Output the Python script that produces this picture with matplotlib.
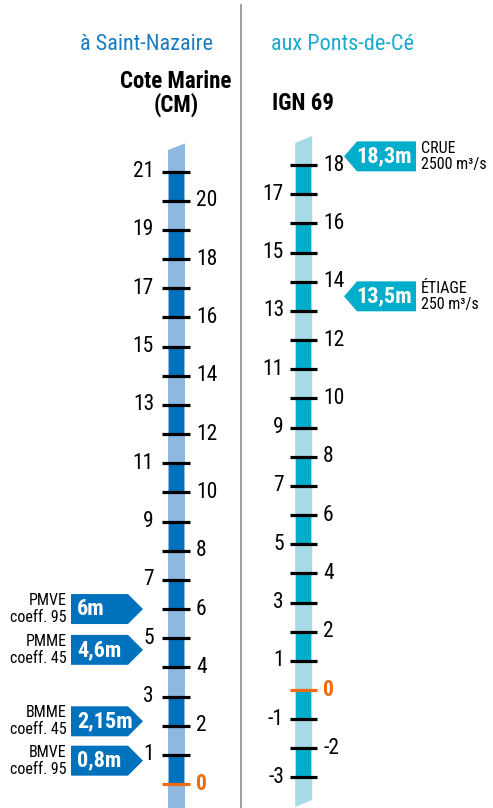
import matplotlib
matplotlib.use('Agg')
import matplotlib.pyplot as plt
from matplotlib.patches import Polygon

# Données des deux échelles
left_ticks = list(range(0, 22))
right_ticks = list(range(-3, 19))

left_names = ["PMVE", "PMME", "BMME", "BMVE"]
left_coeffs = ["coeff. 95", "coeff. 45", "coeff. 45", "coeff. 95"]
left_values = [6.0, 4.6, 2.15, 0.8]
left_labels = ["6m", "4,6m", "2,15m", "0,8m"]

right_names = ["CRUE", "ÉTIAGE"]
right_flows = ["2500 m³/s", "250 m³/s"]
right_values = [18.3, 13.5]
right_labels = ["18,3m", "13,5m"]

# Couleurs
BLEU = '#0071bc'
BLEU_CLAIR = '#8fb8e1'
CYAN = '#00aecb'
CYAN_CLAIR = '#a7d9e7'
ORANGE = '#ec6c14'
TITRE_G = '#1b7cc3'
TITRE_D = '#19abcb'

FONT = ['Roboto Condensed', 'Archivo Narrow', 'DejaVu Sans']
plt.rcParams['font.family'] = FONT

fig = plt.figure(figsize=(4.93, 8.08), dpi=100, facecolor='white')

# Axe gauche (cote marine) et axe droit (IGN 69), x en pixels
axL = fig.add_axes([0, 0, 1, 1])
axL.set_xlim(0, 493)
axL.set_ylim(-0.823, 26.886)
axL.axis('off')

axR = fig.add_axes([0, 0, 1, 1])
axR.set_xlim(0, 493)
axR.set_ylim(-4.047, 23.663)
axR.axis('off')
axR.patch.set_alpha(0)

# ---------------- échelle gauche ----------------
cx, w = 176.5, 17
axL.add_patch(Polygon([(cx - w / 2, -1), (cx + w / 2, -1),
                       (cx + w / 2, max(left_ticks) + 0.97), (cx - w / 2, max(left_ticks) + 0.74)],
                      closed=True, facecolor=BLEU_CLAIR, edgecolor='none', zorder=1))
dark = [t for t in left_ticks if t % 2 == 0 and t < max(left_ticks)]
axL.bar([cx] * len(dark), [1] * len(dark), bottom=dark, width=w - 1.5, color=BLEU, zorder=2)
for t in left_ticks:
    col = ORANGE if t == 0 else 'black'
    axL.plot([162, 189.5], [t, t], color=col, lw=2.3, solid_capstyle='butt', zorder=3)
    if t == 0:
        axL.text(196, t, "0", ha='left', va='center', fontsize=15.5, fontweight='bold', color=ORANGE)
    elif t % 2 == 1:
        axL.text(154, t, str(t), ha='right', va='center', fontsize=15.5)
    else:
        axL.text(196, t, str(t), ha='left', va='center', fontsize=15.5)

# flèches gauche
h = 0.514
for name, coeff, v, lab in zip(left_names, left_coeffs, left_values, left_labels):
    axL.add_patch(Polygon([(71, v - h), (128, v - h), (143, v), (128, v + h), (71, v + h)],
                          closed=True, facecolor=BLEU, edgecolor='none', zorder=2))
    axL.text(77, v, lab, ha='left', va='center', fontsize=16, fontweight='bold', color='white', zorder=3)
    axL.text(66.5, v + 0.29, name, ha='right', va='center', fontsize=11.5)
    axL.text(66.5, v - 0.29, coeff, ha='right', va='center', fontsize=11.5)

# ---------------- échelle droite ----------------
cx2, w2 = 303.7, 17
axR.add_patch(Polygon([(cx2 - w2 / 2, -4.01), (cx2 + w2 / 2, -3.77),
                       (cx2 + w2 / 2, max(right_ticks) + 1.0), (cx2 - w2 / 2, max(right_ticks) + 0.76)],
                      closed=True, facecolor=CYAN_CLAIR, edgecolor='none', zorder=1))
dark2 = [t - 1 for t in right_ticks if t % 2 == 0]
axR.bar([cx2] * len(dark2), [1] * len(dark2), bottom=dark2, width=w2 - 1.5, color=CYAN, zorder=2)
for t in right_ticks:
    col = ORANGE if t == 0 else 'black'
    axR.plot([289.5, 317], [t, t], color=col, lw=2.3, solid_capstyle='butt', zorder=3)
    if t == 0:
        axR.text(323, t, "0", ha='left', va='center', fontsize=15.5, fontweight='bold', color=ORANGE)
    elif t % 2 != 0:
        axR.text(284, t, str(t), ha='right', va='center', fontsize=15.5)
    else:
        axR.text(323, t, str(t), ha='left', va='center', fontsize=15.5)

# flèches droite
for name, flow, v, lab in zip(right_names, right_flows, right_values, right_labels):
    axR.add_patch(Polygon([(344, v), (357, v - h), (416, v - h), (416, v + h), (357, v + h)],
                          closed=True, facecolor=CYAN, edgecolor='none', zorder=2))
    axR.text(411.5, v, lab, ha='right', va='center', fontsize=16, fontweight='bold', color='white', zorder=3)
    axR.text(421, v + 0.27, name, ha='left', va='center', fontsize=11.5)
    axR.text(421, v - 0.29, flow, ha='left', va='center', fontsize=11.5)

# titres et séparateur
fig.text(147 / 493, 1 - 45 / 808, "à Saint-Nazaire", ha='center', va='center', fontsize=16, color=TITRE_G)
fig.text(342.5 / 493, 1 - 45 / 808, "aux Ponts-de-Cé", ha='center', va='center', fontsize=16, color=TITRE_D)
fig.text(176 / 493, 1 - 81 / 808, "Cote Marine", ha='center', va='center', fontsize=16.5, fontweight='bold')
fig.text(176 / 493, 1 - 105 / 808, "(CM)", ha='center', va='center', fontsize=16.5, fontweight='bold')
fig.text(272 / 493, 1 - 103 / 808, "IGN 69", ha='left', va='center', fontsize=16.5, fontweight='bold')
fig.add_artist(plt.Line2D([241 / 493, 241 / 493], [0, 1 - 5 / 808], color='#8c8c8c', lw=1.2))

fig.savefig('out.png', dpi=100, facecolor='white')
plt.close()
